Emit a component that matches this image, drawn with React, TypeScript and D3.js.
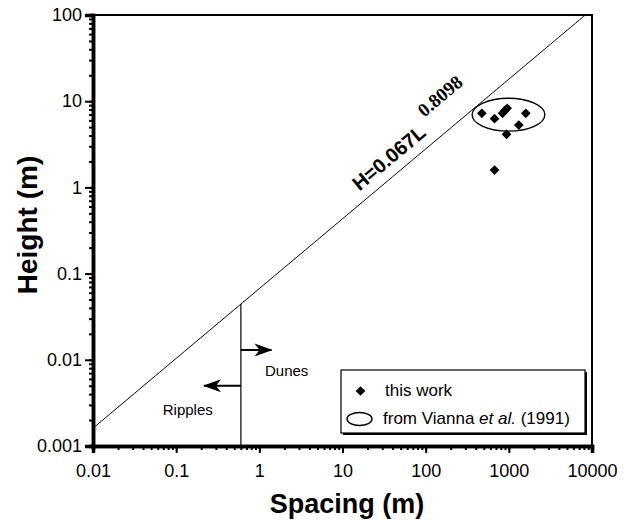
import React, { useEffect, useRef } from 'react';
import * as d3 from 'd3';

// measured points (this work)
const spacing = [473, 673, 840, 895, 955, 1600, 1318, 938, 673];
const heights = [7.24, 6.27, 7.24, 7.8, 8.27, 7.24, 5.29, 4.13, 1.59];

// Vianna et al. (1991) envelope
const viannaSpacing = [362, 2710];
const viannaHeight = [4.5, 10.8];

// H = a L^b
const coef = 0.067;
const expo = 0.8098;

const boundary = 0.6;
const dunesArrow = { y: 0.013, x2: 1.4 };
const ripplesArrow = { y: 0.005, x2: 0.216 };

const xTicks = [0.01, 0.1, 1, 10, 100, 1000, 10000];
const yTicks = [0.001, 0.01, 0.1, 1, 10, 100];
const tickFmt = (d: number) => String(d);

function App() {
  const svgRef = useRef<SVGSVGElement>(null);

  useEffect(() => {
    const margin = { top: 15, right: 36, bottom: 74, left: 93 };
    const width = 628 - margin.left - margin.right;
    const height = 520 - margin.top - margin.bottom;
    const font = 'Liberation Sans, Arial, Helvetica, sans-serif';

    const root = d3.select(svgRef.current);
    root.selectAll('*').remove();

    const defs = root.append('defs');
    defs.append('clipPath').attr('id', 'plot')
      .append('rect').attr('width', width).attr('height', height);
    defs.append('marker')
      .attr('id', 'head')
      .attr('viewBox', '0 0 18 13')
      .attr('refX', 17).attr('refY', 6.5)
      .attr('markerWidth', 18).attr('markerHeight', 13)
      .attr('markerUnits', 'userSpaceOnUse')
      .attr('orient', 'auto')
      .append('path').attr('d', 'M0,0 L18,6.5 L0,13 L5,6.5 Z').attr('fill', '#000');

    const svg = root.append('g')
      .attr('transform', `translate(${margin.left},${margin.top})`);

    const x = d3.scaleLog().domain([0.01, 10000]).range([0, width]);
    const y = d3.scaleLog().domain([0.001, 100]).range([height, 0]);

    // frame (top/right thinner)
    svg.append('rect')
      .attr('width', width).attr('height', height)
      .attr('fill', 'none').attr('stroke', '#000').attr('stroke-width', 2);

    // power law line
    const powerLaw = (l: number) => coef * Math.pow(l, expo);
    const lineData = d3.range(-2, 4.01, 0.05).map(e => Math.pow(10, e));
    svg.append('path')
      .datum(lineData)
      .attr('clip-path', 'url(#plot)')
      .attr('fill', 'none').attr('stroke', '#000').attr('stroke-width', 1)
      .attr('d', d3.line<number>().x(d => x(d)).y(d => y(powerLaw(d))));

    // ripple/dune boundary
    svg.append('line')
      .attr('x1', x(boundary)).attr('x2', x(boundary))
      .attr('y1', y(powerLaw(boundary))).attr('y2', height)
      .attr('stroke', '#000').attr('stroke-width', 1.2);

    [dunesArrow, ripplesArrow].forEach(a => {
      svg.append('line')
        .attr('x1', x(boundary)).attr('x2', x(a.x2))
        .attr('y1', y(a.y)).attr('y2', y(a.y))
        .attr('stroke', '#000').attr('stroke-width', 2)
        .attr('marker-end', 'url(#head)');
    });

    svg.append('text')
      .attr('x', x(1.17)).attr('y', y(0.0065))
      .attr('font-family', font).attr('font-size', 15)
      .text('Dunes');
    svg.append('text')
      .attr('x', x(0.069)).attr('y', y(0.00229))
      .attr('font-family', font).attr('font-size', 15)
      .text('Ripples');

    // equation label along the line
    const slopeAngle = -Math.atan(expo * (height / 5) / (width / 6)) * 180 / Math.PI;
    const lx = x(16), ly = y(powerLaw(16)) - 13;
    const eq = svg.append('g')
      .attr('transform', `translate(${lx},${ly}) rotate(${slopeAngle})`);
    eq.append('text')
      .attr('font-family', font)
      .attr('font-size', 20).attr('font-weight', 'bold')
      .text('H=0.067L');
    eq.append('text')
      .attr('x', 97).attr('y', -15)
      .attr('font-family', 'Liberation Serif, Times New Roman, serif')
      .attr('font-size', 19).attr('font-weight', 'bold')
      .text('0.8098');

    // Vianna ellipse
    const ex0 = x(viannaSpacing[0]), ex1 = x(viannaSpacing[1]);
    const ey0 = y(viannaHeight[1]), ey1 = y(viannaHeight[0]);
    svg.append('ellipse')
      .attr('cx', (ex0 + ex1) / 2).attr('cy', (ey0 + ey1) / 2)
      .attr('rx', (ex1 - ex0) / 2).attr('ry', (ey1 - ey0) / 2)
      .attr('fill', 'none').attr('stroke', '#000').attr('stroke-width', 1.4);

    const diamond = d3.symbol().type(d3.symbolDiamond2).size(60);
    svg.selectAll('.pt')
      .data(spacing.map((s, i) => [s, heights[i]]))
      .enter().append('path')
      .attr('class', 'pt')
      .attr('transform', d => `translate(${x(d[0])},${y(d[1])})`)
      .attr('d', diamond)
      .attr('fill', '#000');

    // axes
    const yMinor = svg.append('g')
      .call(d3.axisLeft(y).tickSize(4).tickFormat(() => ''));
    const yMajor = svg.append('g')
      .call(d3.axisLeft(y).tickValues(yTicks).tickSize(8).tickPadding(3).tickFormat(d => tickFmt(d as number)));
    const xMinor = svg.append('g')
      .attr('transform', `translate(0,${height})`)
      .call(d3.axisBottom(x).tickSize(4).tickFormat(() => ''));
    const xMajor = svg.append('g')
      .attr('transform', `translate(0,${height})`)
      .call(d3.axisBottom(x).tickValues(xTicks).tickSize(7).tickPadding(11).tickFormat(d => tickFmt(d as number)));

    [yMinor, yMajor, xMinor, xMajor].forEach(g => {
      g.select('.domain').attr('stroke-width', 3.5);
      g.selectAll('.tick line').attr('stroke-width', 2);
      g.selectAll('.tick text')
        .attr('font-family', font).attr('font-size', 18).attr('fill', '#000');
    });

    // axis titles
    svg.append('text')
      .attr('transform', `translate(${-56},${210}) rotate(-90)`)
      .attr('text-anchor', 'middle')
      .attr('font-family', font).attr('font-size', 28).attr('font-weight', 'bold')
      .text('Height (m)');
    svg.append('text')
      .attr('x', 254).attr('y', height + 67)
      .attr('text-anchor', 'middle')
      .attr('font-family', font).attr('font-size', 27).attr('font-weight', 'bold')
      .text('Spacing (m)');

    // legend
    const lg = svg.append('g').attr('transform', `translate(${341 - margin.left},${370 - margin.top})`);
    lg.append('rect').attr('x', 2).attr('y', 2).attr('width', 244).attr('height', 63).attr('fill', '#000');
    lg.append('rect').attr('width', 244).attr('height', 63).attr('fill', '#fff')
      .attr('stroke', '#000').attr('stroke-width', 1.2);
    lg.append('path').attr('transform', 'translate(19.5,21)').attr('d', diamond).attr('fill', '#000');
    lg.append('text').attr('x', 44).attr('y', 26)
      .attr('font-family', font).attr('font-size', 17).text('this work');
    lg.append('ellipse').attr('cx', 18.5).attr('cy', 49).attr('rx', 12.5).attr('ry', 6.5)
      .attr('fill', 'none').attr('stroke', '#000').attr('stroke-width', 1.4);
    const lt = lg.append('text').attr('x', 42).attr('y', 54)
      .attr('font-family', font).attr('font-size', 17);
    lt.append('tspan').text('from Vianna ');
    lt.append('tspan').attr('font-style', 'italic').text('et al.');
    lt.append('tspan').text(' (1991)');
  }, []);

  return (
    <svg ref={svgRef} width={628} height={520}
      style={{ position: 'absolute', left: 0, top: 0, background: '#fff' }} />
  );
}

export default App;
